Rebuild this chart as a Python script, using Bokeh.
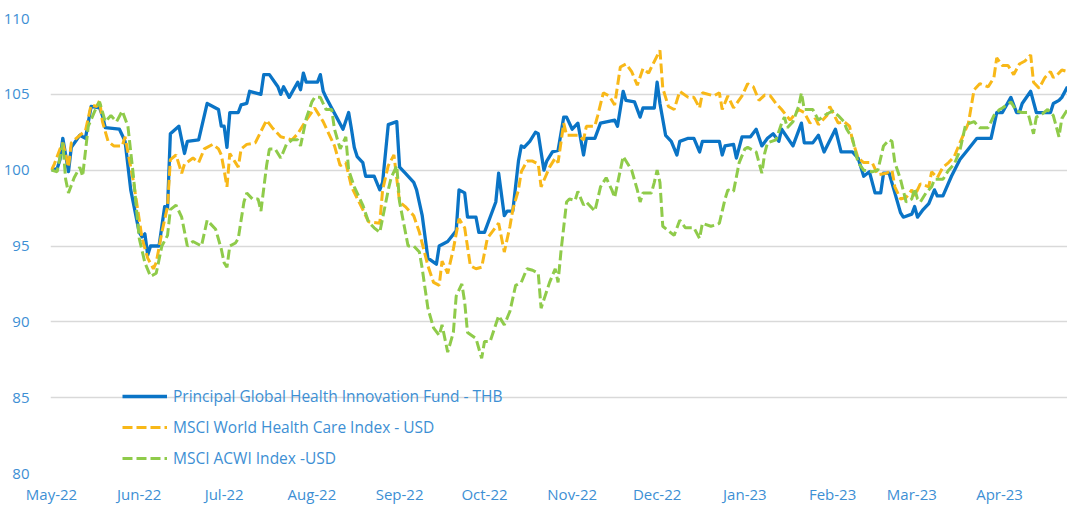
import pandas as pd
from bokeh.plotting import figure
from bokeh.models import Range1d, FixedTicker, DatetimeTickFormatter, Legend, LegendItem, ColumnDataSource
from bokeh.embed import file_html
from bokeh.resources import INLINE

START = "2022-05-01"

tick_months = ["2022-05-01", "2022-06-01", "2022-07-01", "2022-08-01", "2022-09-01", "2022-10-01",
               "2022-11-01", "2022-12-01", "2023-01-01", "2023-02-01", "2023-03-01", "2023-04-01"]
y_ticks = [80, 85, 90, 95, 100, 105, 110]

series_names = ["Principal Global Health Innovation Fund - THB",
                "MSCI World Health Care Index - USD",
                "MSCI ACWI Index -USD"]

# days since START
fund_days = [0, 2, 3, 4, 6, 7, 10, 12, 14, 17, 18, 19, 24, 25, 26, 28, 31, 32, 33, 34, 35, 38,
             40, 41, 42, 45, 47, 48, 52, 55, 59, 60, 61, 62, 63, 66, 67, 69, 70, 72, 74, 75, 77,
             80, 81, 82, 84, 87, 88, 89, 90, 94, 95, 96, 97, 99, 101, 103, 105, 106, 107, 108,
             110, 111, 114, 116, 117, 119, 122, 123, 125, 128, 129, 131, 133, 136, 137, 140, 143,
             144, 146, 147, 150, 151, 153, 157, 158, 160, 161, 163, 165, 166, 167, 169, 171, 172,
             174, 175, 177, 179, 181, 182, 184, 186, 188, 189, 192, 194, 199, 200, 202, 203, 206,
             208, 209, 213, 214, 215, 217, 219, 221, 222, 225, 227, 229, 230, 236, 237, 238, 241,
             242, 244, 247, 249, 251, 253, 255, 257, 258, 262, 265, 266, 269, 271, 273, 277, 279,
             283, 285, 287, 289, 291, 293, 294, 296, 298, 300, 301, 304, 305, 306, 308, 310, 312,
             313, 315, 318, 321, 324, 327, 332, 334, 336, 339, 341, 342, 343, 346, 348, 350, 353,
             354, 356, 357, 359]
fund_vals = [100.0, 100.1, 100.7, 102.1, 99.9, 101.5, 102.3, 102.1, 104.2, 104.1, 103.6, 102.8,
             102.7, 102.3, 101.9, 98.7, 95.9, 95.6, 95.8, 94.4, 95.0, 95.0,
             97.6, 97.5, 102.4, 102.9, 101.1, 101.9, 102.0, 104.4, 104.0, 102.9, 102.9, 101.5,
             103.8, 103.8, 104.3, 104.4, 105.2, 105.1, 105.0, 106.3, 106.3,
             105.5, 105.0, 105.5, 104.8, 105.8, 105.3, 106.4, 105.8, 105.8, 106.3, 105.2, 104.8,
             104.1, 103.4, 102.7, 103.8, 102.7, 101.5, 100.9,
             100.5, 99.6, 99.6, 98.7, 99.2, 103.0, 103.2, 100.2, 99.8, 99.2, 98.7, 97.0, 94.2,
             93.8, 95.0, 95.3, 96.0,
             98.7, 98.5, 96.9, 96.9, 95.9, 95.9, 97.9, 99.8, 97.0, 97.3, 97.3, 100.6, 101.6,
             101.5, 101.9, 102.5, 102.4,
             100.0, 100.6, 101.2, 101.3, 103.5, 103.5, 102.7, 103.1, 101.0, 102.1, 102.1, 103.1,
             103.3, 102.9, 105.2, 104.6, 104.5,
             103.5, 104.1, 104.1, 105.8, 104.4, 102.3, 101.9, 101.0, 101.9, 102.1, 102.1, 101.2,
             101.9, 101.9, 101.0, 101.6, 101.7,
             100.8, 102.2, 102.2, 102.7, 101.6, 102.1, 102.4, 101.9, 102.7, 101.6, 103.1, 101.8,
             101.8, 102.3, 101.2, 102.7, 101.2,
             101.2, 100.8, 99.6, 99.9, 98.5, 98.5, 99.8, 99.8, 98.5, 97.2, 96.9, 97.1, 97.6, 96.9,
             97.4, 97.8, 98.7,
             98.3, 98.3, 99.6, 100.7, 101.4, 102.1, 102.1, 103.8, 103.8, 104.8, 103.8, 103.8,
             104.4, 105.2, 103.8, 103.8, 103.8,
             104.4, 104.6, 104.8, 105.5]

hc_days = [0, 1, 3, 4, 6, 7, 10, 12, 14, 16, 17, 18, 20, 22, 25, 26, 29, 32, 34, 36, 37, 39, 41,
           42, 44, 46, 47, 50, 52, 54, 57, 59, 60, 61, 62, 63, 65, 66, 67, 69, 72, 76, 78, 81, 85,
           87, 90, 93, 96, 98, 100, 102, 104, 106, 110, 112, 116, 117, 119, 121, 123, 125, 128,
           130, 133, 135, 137, 138, 140, 142, 144, 146, 148, 150, 152, 154, 158, 160, 162, 163,
           165, 166, 168, 170, 172, 173, 176, 178, 179, 181, 182, 186, 188, 189, 192, 193, 195,
           197, 199, 201, 203, 205, 207, 209, 211, 212, 215, 216, 218, 220, 222, 225, 227, 229,
           230, 234, 236, 237, 239, 241, 244, 246, 248, 250, 252, 254, 256, 258, 261, 264, 266,
           268, 270, 271, 274, 275, 278, 280, 282, 283, 285, 287, 290, 292, 295, 297, 298, 300,
           302, 304, 305, 307, 310, 311, 313, 315, 317, 319, 321, 324, 326, 328, 331, 333, 334,
           336, 338, 340, 342, 344, 346, 347, 349, 351, 353, 354, 356, 357, 359]
hc_vals = [100.0, 100.4, 101.4, 101.8, 100.2, 101.8, 102.3, 102.6, 104.3, 104.2, 104.6, 103.2,
           101.9, 101.6, 101.6, 102.2, 99.2, 95.5, 94.2, 93.5, 93.9, 95.9, 97.6,
           100.7, 101.0, 99.8, 100.4, 100.8, 100.5, 101.4, 101.7, 101.4, 101.0, 100.0, 98.9, 101.1,
           100.5, 100.2, 101.4, 101.7, 101.8, 103.3, 102.8, 102.2, 102.0,
           102.4, 103.3, 104.1, 103.2, 102.4, 101.6, 100.3, 100.5, 98.9, 97.4, 96.6, 96.5, 98.7,
           100.3, 101.0, 97.9, 97.6, 97.0,
           95.9, 93.7, 92.6, 92.4, 94.0, 93.2, 94.8, 96.8, 96.2, 93.7, 93.5, 93.6, 95.5, 96.5,
           94.6, 96.3, 97.4,
           98.7, 99.9, 100.6, 100.6, 100.4, 98.9, 100.2, 100.8, 100.5, 103.1, 102.3, 102.3, 102.0,
           102.9, 102.9, 103.6, 105.1,
           104.9, 104.3, 106.8, 107.0, 106.5, 105.6, 106.7, 106.4, 106.8, 107.9, 105.4, 104.2,
           104.0, 105.2, 104.8, 104.8, 104.1,
           105.1, 104.9, 105.1, 104.0, 104.9, 104.1, 104.9, 105.7, 105.5, 104.6, 104.95, 104.9,
           104.4, 104.0, 103.3, 104.0, 103.8,
           103.1, 103.4, 103.0, 103.6, 104.2, 103.1, 103.2, 102.9, 102.0, 100.8, 100.5, 100.5,
           99.7, 99.8, 100.0, 98.9, 98.1,
           98.2, 98.7, 98.3, 99.1, 98.9, 99.9, 99.5, 100.2, 100.5, 100.9, 101.8, 103.1, 105.3,
           105.7, 105.5, 106.1, 107.4,
           106.9, 106.9, 106.3, 107.0, 107.2, 107.6, 105.8, 105.4, 106.1, 106.5, 106.1, 106.4,
           106.6, 106.5]

acwi_days = [0, 2, 4, 5, 6, 8, 10, 11, 13, 16, 17, 19, 21, 23, 25, 27, 29, 31, 33, 35, 37, 39,
             41, 42, 44, 46, 48, 50, 53, 55, 58, 60, 61, 62, 63, 65, 66, 68, 69, 71, 73, 74, 76,
             77, 79, 81, 83, 85, 87, 88, 90, 92, 93, 95, 97, 99, 100, 102, 104, 105, 107, 110, 112,
             114, 116, 119, 120, 122, 123, 126, 128, 130, 131, 133, 135, 137, 138, 140, 142, 143,
             145, 146, 147, 150, 152, 153, 155, 158, 160, 162, 164, 166, 168, 170, 172, 173, 176,
             178, 179, 180, 182, 183, 185, 186, 188, 189, 192, 194, 196, 198, 199, 201, 202, 205,
             207, 208, 209, 212, 213, 214, 215, 216, 218, 220, 222, 224, 227, 229, 230, 233, 235,
             236, 238, 239, 241, 243, 245, 246, 249, 251, 252, 253, 256, 258, 259, 260, 262, 264,
             265, 266, 269, 271, 273, 276, 278, 280, 281, 283, 285, 287, 290, 292, 294, 296, 297,
             298, 300, 302, 304, 305, 306, 307, 309, 311, 312, 315, 317, 319, 321, 323, 326, 328,
             331, 333, 335, 336, 339, 341, 343, 345, 347, 348, 350, 352, 354, 356, 357, 359]
acwi_vals = [100.0, 99.9, 101.8, 99.4, 98.5, 99.5, 100.2, 99.6, 102.9, 104.2, 104.5, 103.2,
             103.6, 103.2, 103.9, 102.9, 99.5, 95.5, 93.9, 93.0, 93.2, 95.0,
             95.7, 97.4, 97.7, 96.9, 95.0, 95.3, 95.0, 96.7, 96.1, 94.8, 93.9, 93.6, 95.0, 95.2,
             95.5, 97.9, 98.5, 98.1, 98.1, 97.3, 100.3,
             101.4, 101.4, 100.8, 101.7, 102.0, 102.0, 101.6, 103.4, 104.5, 104.8, 104.8, 104.0,
             104.0, 102.7, 101.4, 102.2, 100.0, 98.9, 97.7, 96.6,
             96.2, 95.9, 98.7, 99.5, 100.3, 97.9, 95.0, 95.0, 94.6, 93.5, 90.9, 89.6, 89.1, 89.8,
             88.0, 89.3, 91.7,
             92.5, 91.3, 89.3, 88.9, 87.6, 88.7, 88.7, 90.4, 89.8, 90.7, 92.4, 92.6, 93.5, 93.4,
             93.2, 90.9, 92.6,
             93.5, 92.6, 94.6, 97.9, 98.1, 98.0, 98.6, 97.7, 97.9, 97.3, 98.9, 99.5, 98.7, 98.2,
             100.0, 100.9, 100.0,
             98.7, 97.9, 98.5, 98.5, 99.2, 100.0, 99.2, 96.3, 96.0, 95.7, 96.7, 96.2, 96.2, 95.5,
             96.5, 96.3, 96.4,
             96.5, 98.1, 98.7, 98.6, 100.5, 101.4, 101.5, 101.2, 99.8, 101.1, 101.8, 102.0, 103.1,
             103.5, 102.8, 103.2, 104.2,
             105.1, 104.0, 104.0, 103.3, 103.6, 103.9, 103.6, 103.2, 102.7, 102.1, 100.5, 100.0,
             99.9, 100.0, 101.6, 102.0, 101.9,
             100.5, 99.4, 97.9, 98.1, 98.8, 98.1, 97.9, 98.5, 98.9, 99.4, 99.4, 100.0, 100.4,
             101.3, 103.0, 103.2, 102.8,
             102.8, 103.6, 104.0, 104.1, 104.5, 103.9, 103.8, 103.8, 102.4, 103.5, 103.7, 104.0,
             103.6, 102.2, 103.4, 104.0]

TEXT = "#3d8fd4"
BLUE = "#0a74c6"
ORANGE = "#f8b818"
GREEN = "#8fcb4a"
FONT = "Open Sans"

start = pd.Timestamp(START)


def to_dates(days):
    return start + pd.to_timedelta(days, unit="D")


x0 = start - pd.Timedelta(hours=8.5)
x1 = x0 + pd.Timedelta(days=1017 / 2.83)

p = figure(width=1067, height=506, x_axis_type="datetime", output_backend="svg",
           toolbar_location=None, x_range=Range1d(x0, x1), y_range=Range1d(80, 110),
           min_border_left=50, min_border_right=0, min_border_top=18, min_border_bottom=30)
p.background_fill_color = "white"
p.border_fill_color = "white"
p.outline_line_color = None

src_fund = ColumnDataSource(dict(x=to_dates(fund_days), y=fund_vals))
src_hc = ColumnDataSource(dict(x=to_dates(hc_days), y=hc_vals))
src_acwi = ColumnDataSource(dict(x=to_dates(acwi_days), y=acwi_vals))

r1 = p.line("x", "y", source=src_fund, line_color=BLUE, line_width=3.3, line_join="round")
r2 = p.line("x", "y", source=src_hc, line_color=ORANGE, line_width=3, line_dash="10 4")
r3 = p.line("x", "y", source=src_acwi, line_color=GREEN, line_width=3, line_dash="10 4")

# axes
p.xaxis.ticker = FixedTicker(ticks=[pd.Timestamp(m).value / 1e6 for m in tick_months])
fmt = "%b-%y"
p.xaxis.formatter = DatetimeTickFormatter(microseconds=fmt, milliseconds=fmt, seconds=fmt,
                                          minsec=fmt, minutes=fmt, hourmin=fmt, hours=fmt,
                                          days=fmt, months=fmt, years=fmt)
p.yaxis.ticker = FixedTicker(ticks=y_ticks)
for ax in (p.xaxis, p.yaxis):
    ax.axis_line_color = None
    ax.major_tick_line_color = None
    ax.minor_tick_line_color = None
    ax.major_label_text_color = TEXT
    ax.major_label_text_font = FONT
    ax.major_label_text_font_size = "15px"
p.yaxis.major_label_standoff = 15
p.xaxis.major_label_standoff = 4

p.xgrid.grid_line_color = None
p.ygrid.grid_line_color = "#d9d9d9"
p.ygrid.grid_line_width = 1.5
p.ygrid.ticker = FixedTicker(ticks=y_ticks)

legend = Legend(items=[LegendItem(label=series_names[0], renderers=[r1]),
                       LegendItem(label=series_names[1], renderers=[r2]),
                       LegendItem(label=series_names[2], renderers=[r3])],
                location=(72, 4), orientation="vertical")
legend.glyph_width = 45
legend.glyph_height = 20
legend.label_height = 20
legend.spacing = 9
legend.padding = 0
legend.margin = 0
legend.label_standoff = 6
legend.label_text_font = FONT
legend.label_text_font_size = "15.5px"
legend.label_text_color = TEXT
legend.background_fill_alpha = 0
legend.border_line_alpha = 0
p.add_layout(legend)

open("out.html", "w").write(file_html(p, INLINE))
